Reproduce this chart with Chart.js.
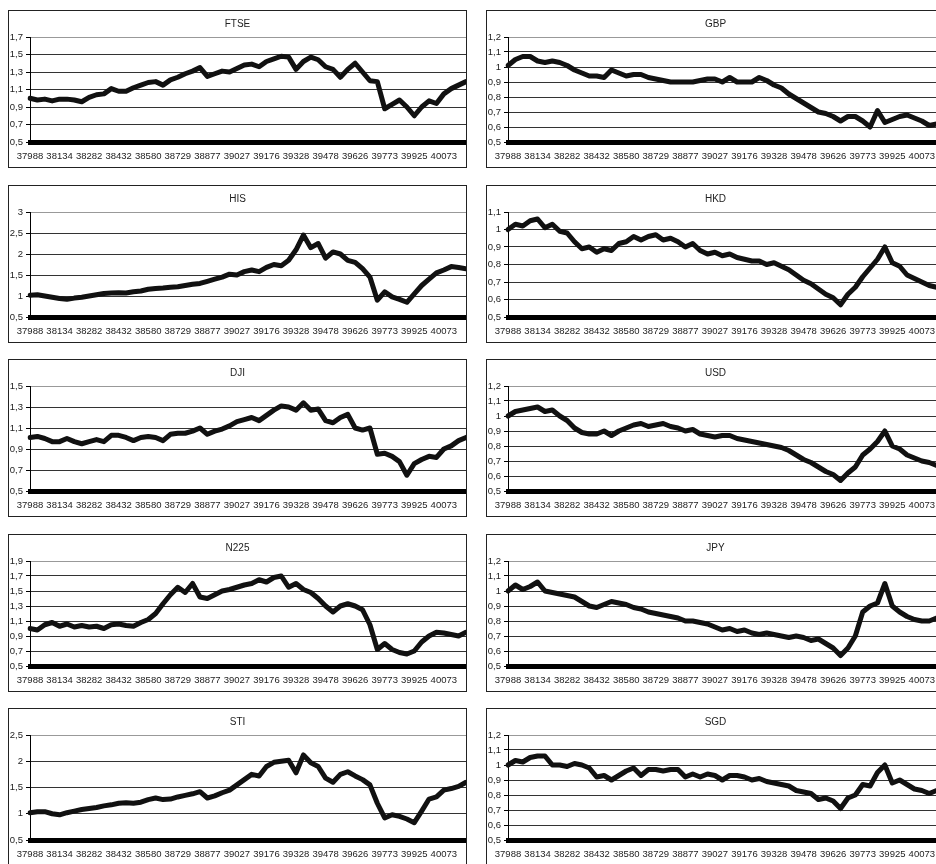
<!DOCTYPE html>
<html>
<head>
<meta charset="utf-8">
<script src="https://cdn.jsdelivr.net/npm/chart.js@4"></script>
<style>
  body { margin: 0; background: #fff; overflow: hidden; width: 936px; height: 864px; position: relative; }
  .panel { position: absolute; width: 459px; height: 158px; border: 1px solid #222; box-sizing: border-box; background: #fff; }
  .panel canvas { display: block; }
</style>
</head>
<body>
<script>
// Excel serial dates of the sampled trading days
const dates = [
  37988, 38025, 38061, 38098, 38134, 38171, 38208, 38245,
  38282, 38320, 38357, 38395, 38432, 38469, 38506, 38543,
  38580, 38617, 38655, 38692, 38729, 38766, 38803, 38840,
  38877, 38915, 38952, 38990, 39027, 39064, 39102, 39139,
  39176, 39214, 39252, 39290, 39328, 39366, 39403, 39441,
  39478, 39515, 39552, 39589, 39626, 39663, 39699, 39736,
  39773, 39811, 39849, 39887, 39925, 39962, 39999, 40036,
  40073, 40110, 40147, 40184
];
const xTickLabels = [37988, 38134, 38282, 38432, 38580, 38729, 38877, 39027, 39176, 39328, 39478, 39626, 39773, 39925, 40073];

// normalised series (first day = 1)
const FTSE = [1.00,0.98,0.99,0.97,0.99,0.99,0.98,0.96,1.01,1.04,1.05,1.11,1.08,1.08,1.12,1.15,1.18,1.19,1.15,1.21,
  1.24,1.28,1.31,1.35,1.25,1.28,1.31,1.30,1.34,1.38,1.39,1.36,1.42,1.45,1.48,1.47,1.33,1.42,1.47,1.44,
  1.36,1.33,1.24,1.33,1.40,1.30,1.20,1.19,0.88,0.93,0.98,0.90,0.80,0.90,0.97,0.94,1.05,1.11,1.15,1.19];
const GBP = [1.01,1.05,1.07,1.07,1.04,1.03,1.04,1.03,1.01,0.98,0.96,0.94,0.94,0.93,0.98,0.96,0.94,0.95,0.95,0.93,
  0.92,0.91,0.90,0.90,0.90,0.90,0.91,0.92,0.92,0.90,0.93,0.90,0.90,0.90,0.93,0.91,0.88,0.86,0.82,0.79,
  0.76,0.73,0.70,0.69,0.67,0.64,0.67,0.67,0.64,0.60,0.71,0.63,0.65,0.67,0.68,0.66,0.64,0.61,0.62,0.62];
const HIS = [1.02,1.03,1.00,0.97,0.94,0.92,0.95,0.97,1.00,1.03,1.06,1.07,1.08,1.07,1.10,1.12,1.16,1.18,1.19,1.21,
  1.22,1.25,1.28,1.30,1.35,1.40,1.45,1.52,1.50,1.58,1.62,1.58,1.68,1.75,1.72,1.85,2.10,2.45,2.15,2.25,
  1.90,2.05,2.00,1.85,1.80,1.65,1.45,0.90,1.10,0.98,0.92,0.85,1.05,1.25,1.40,1.55,1.62,1.70,1.68,1.65];
const HKD = [1.00,1.03,1.02,1.05,1.06,1.01,1.03,0.99,0.98,0.93,0.89,0.90,0.87,0.89,0.88,0.92,0.93,0.96,0.94,0.96,
  0.97,0.94,0.95,0.93,0.90,0.92,0.88,0.86,0.87,0.85,0.86,0.84,0.83,0.82,0.82,0.80,0.81,0.79,0.77,0.74,
  0.71,0.69,0.66,0.63,0.61,0.57,0.63,0.67,0.73,0.78,0.83,0.90,0.81,0.79,0.74,0.72,0.70,0.68,0.67,0.67];
const DJI = [1.01,1.02,1.00,0.97,0.97,1.00,0.97,0.95,0.97,0.99,0.97,1.03,1.03,1.01,0.98,1.01,1.02,1.01,0.98,1.04,
  1.05,1.05,1.07,1.10,1.04,1.07,1.09,1.12,1.16,1.18,1.20,1.17,1.22,1.27,1.31,1.30,1.27,1.34,1.27,1.28,
  1.17,1.15,1.20,1.23,1.10,1.08,1.10,0.85,0.86,0.83,0.78,0.65,0.76,0.80,0.83,0.82,0.90,0.93,0.98,1.01];
const USD = [1.00,1.03,1.04,1.05,1.06,1.03,1.04,1.00,0.97,0.92,0.89,0.88,0.88,0.90,0.87,0.90,0.92,0.94,0.95,0.93,
  0.94,0.95,0.93,0.92,0.90,0.91,0.88,0.87,0.86,0.87,0.87,0.85,0.84,0.83,0.82,0.81,0.80,0.79,0.77,0.74,
  0.71,0.69,0.66,0.63,0.61,0.57,0.62,0.66,0.74,0.78,0.83,0.90,0.80,0.78,0.74,0.72,0.70,0.69,0.67,0.66];
const N225 = [1.00,0.98,1.05,1.08,1.03,1.06,1.02,1.04,1.02,1.03,1.00,1.05,1.06,1.04,1.03,1.08,1.12,1.20,1.33,1.45,
  1.55,1.48,1.60,1.42,1.40,1.45,1.50,1.52,1.55,1.58,1.60,1.65,1.62,1.68,1.70,1.55,1.60,1.52,1.48,1.40,
  1.30,1.22,1.30,1.33,1.30,1.25,1.05,0.72,0.80,0.72,0.68,0.66,0.70,0.82,0.90,0.95,0.94,0.92,0.90,0.95];
const JPY = [1.00,1.04,1.01,1.03,1.06,1.00,0.99,0.98,0.97,0.96,0.93,0.90,0.89,0.91,0.93,0.92,0.91,0.89,0.88,0.86,
  0.85,0.84,0.83,0.82,0.80,0.80,0.79,0.78,0.76,0.74,0.75,0.73,0.74,0.72,0.71,0.72,0.71,0.70,0.69,0.70,
  0.69,0.67,0.68,0.65,0.62,0.57,0.62,0.70,0.86,0.90,0.92,1.05,0.90,0.86,0.83,0.81,0.80,0.80,0.82,0.82];
const STI = [1.02,1.04,1.04,1.00,0.98,1.02,1.05,1.08,1.10,1.12,1.15,1.17,1.20,1.21,1.20,1.22,1.27,1.30,1.27,1.28,
  1.32,1.35,1.38,1.42,1.30,1.34,1.40,1.45,1.55,1.65,1.75,1.72,1.90,1.98,2.00,2.02,1.78,2.12,1.97,1.90,
  1.68,1.60,1.75,1.80,1.72,1.65,1.55,1.20,0.92,0.98,0.95,0.90,0.83,1.05,1.28,1.32,1.45,1.48,1.52,1.60];
const SGD = [1.00,1.03,1.02,1.05,1.06,1.06,1.00,1.00,0.99,1.01,1.00,0.98,0.92,0.93,0.90,0.93,0.96,0.98,0.93,0.97,
  0.97,0.96,0.97,0.97,0.92,0.94,0.92,0.94,0.93,0.90,0.93,0.93,0.92,0.90,0.91,0.89,0.88,0.87,0.86,0.83,
  0.82,0.81,0.77,0.78,0.76,0.71,0.78,0.80,0.87,0.86,0.95,1.00,0.88,0.90,0.87,0.84,0.83,0.81,0.83,0.82];

// row by row: index left, currency right
const panels = [
  { title: 'FTSE', data: FTSE, min: 0.5, max: 1.7, step: 0.2 },
  { title: 'GBP',  data: GBP,  min: 0.5, max: 1.2, step: 0.1 },
  { title: 'HIS',  data: HIS,  min: 0.5, max: 3,   step: 0.5 },
  { title: 'HKD',  data: HKD,  min: 0.5, max: 1.1, step: 0.1 },
  { title: 'DJI',  data: DJI,  min: 0.5, max: 1.5, step: 0.2 },
  { title: 'USD',  data: USD,  min: 0.5, max: 1.2, step: 0.1 },
  { title: 'N225', data: N225, min: 0.5, max: 1.9, step: 0.2 },
  { title: 'JPY',  data: JPY,  min: 0.5, max: 1.2, step: 0.1 },
  { title: 'STI',  data: STI,  min: 0.5, max: 2.5, step: 0.5 },
  { title: 'SGD',  data: SGD,  min: 0.5, max: 1.2, step: 0.1 }
];

const font = { family: '"Liberation Sans", Arial, sans-serif', size: 9.5 };
const comma = v => String(Math.round(v * 10) / 10).replace('.', ',');

panels.forEach((p, i) => {
  const box = document.createElement('div');
  box.className = 'panel';
  box.style.left = (i % 2 ? 486 : 8) + 'px';
  box.style.top = Math.round(10 + Math.floor(i / 2) * 174.5) + 'px';
  const canvas = document.createElement('canvas');
  canvas.width = 457;
  canvas.height = 156;
  box.appendChild(canvas);
  document.body.appendChild(box);

  new Chart(canvas, {
    type: 'line',
    data: {
      labels: dates,
      datasets: [{
        data: p.data,
        borderColor: '#111',
        borderWidth: 5,
        borderJoinStyle: 'round',
        borderCapStyle: 'round',
        pointRadius: 0,
        tension: 0
      }]
    },
    options: {
      responsive: false,
      animation: false,
      layout: { padding: 0 },
      plugins: {
        legend: { display: false },
        tooltip: { enabled: false },
        title: {
          display: true,
          text: p.title,
          color: '#222',
          font: { family: font.family, size: 10, weight: 'normal' },
          padding: { top: 7, bottom: 7 }
        }
      },
      scales: {
        x: {
          grid: { display: false, drawTicks: false },
          border: { display: true, color: '#000', width: 5 },
          ticks: {
            autoSkip: false,
            maxRotation: 0,
            minRotation: 0,
            padding: 9,
            color: '#222',
            font: font,
            callback: (v, idx) => xTickLabels.includes(dates[idx]) ? String(dates[idx]) : ''
          },
          afterFit: s => { s.height = 25; s.paddingLeft = 0; s.paddingRight = 0; }
        },
        y: {
          min: p.min,
          max: p.max,
          ticks: { stepSize: p.step, padding: 3, color: '#222', font: font, callback: v => comma(v) },
          grid: {
            color: c => (c.tick && Math.abs(c.tick.value - p.max) < 1e-6) ? '#999' : '#333',
            lineWidth: 1,
            tickLength: 4,
            tickColor: '#000'
          },
          border: { display: true, color: '#000', width: 1 },
          afterFit: s => { s.width = 21; }
        }
      }
    }
  });
});
</script>
</body>
</html>
